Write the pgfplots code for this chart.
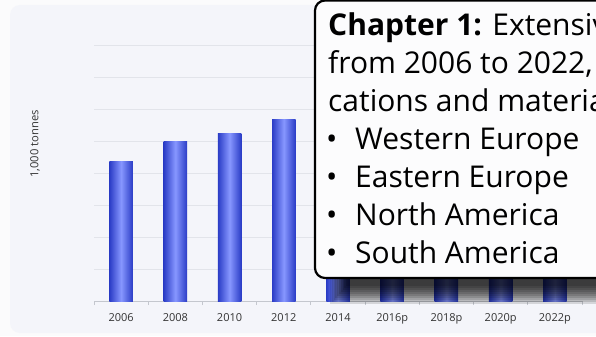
\documentclass[border=0pt]{standalone}
\usepackage{pgfplots}
\pgfplotsset{compat=1.18}
\usepackage{fontspec}
\setmainfont{Open Sans}
\definecolor{outerbg}{HTML}{FBFBFC}
\definecolor{panelbg}{HTML}{F4F5FA}
\definecolor{gridc}{HTML}{E2E4EA}
\definecolor{axisc}{HTML}{C4C7CE}
\definecolor{bardark}{HTML}{2A3CC6}
\definecolor{barlight}{HTML}{8797FF}
\definecolor{boxfill}{HTML}{FCFCFD}
\definecolor{labc}{HTML}{333333}
\newcommand\bigf{\fontsize{30bp}{38bp}\selectfont}
\pgfplotsset{gbar/.style={ybar, bar width=23.5bp, bar shift=0pt, draw=none,
  left color=bardark, right color=bardark, middle color=barlight}}
\begin{document}
\begin{tikzpicture}[x=1bp,y=1bp]
\clip (0,0) rectangle (596,336);
\fill[outerbg] (0,0) rectangle (596,336);
\fill[panelbg, rounded corners=10bp] (10,3) rectangle (720,331);
\node[rotate=90, font=\fontsize{11.2bp}{13bp}\selectfont, text=labc] at (35,192) {1,000 tonnes};
\begin{axis}[
  at={(94bp,35bp)}, anchor=south west,
  scale only axis, width=488bp, height=256bp,
  xmin=-0.5, xmax=8.5, ymin=0, ymax=8,
  ytick={1,...,8}, yticklabels={},
  ymajorgrids, grid style={gridc, line width=0.8bp},
  major y tick style={draw=none},
  axis x line*=bottom, axis y line*=left,
  y axis line style={draw=none},
  x axis line style={axisc, line width=1bp},
  xtick={0,...,8},
  xticklabels={2006,2008,2010,2012,2014,2016p,2018p,2020p,2022p},
  major x tick style={draw=none},
  minor xtick={-0.5,0.5,...,8.5},
  minor x tick style={axisc, line width=0.8bp},
  minor tick length=4bp,
  tick align=outside,
  xticklabel style={font=\fontsize{11bp}{13bp}\selectfont, text=labc, yshift=-5bp},
]
\addplot[gbar] coordinates {(0,4.375)};
\addplot[gbar] coordinates {(1,4.97)};
\addplot[gbar] coordinates {(2,5.25)};
\addplot[gbar] coordinates {(3,5.66)};
\addplot[gbar] coordinates {(4,6.0)};
\addplot[gbar] coordinates {(5,6.3)};
\addplot[gbar] coordinates {(6,6.6)};
\addplot[gbar] coordinates {(7,6.9)};
\addplot[gbar] coordinates {(8,7.2)};
\end{axis}
\foreach \i in {0,...,9} {
  \fill[black, opacity=0.13] ({330+1.8*\i},{32+2*\i}) rectangle (720,200);
}
\draw[line width=2.2bp, fill=boxfill, rounded corners=10bp] (315,58) rectangle (720,335.5);
\node[anchor=base west, inner sep=0, font=\bigf] at (328,301) {\textbf{Chapter 1:} Extensive coverage};
\node[anchor=base west, inner sep=0, font=\bigf] at (328,263) {from 2006 to 2022, with forecasts};
\node[anchor=base west, inner sep=0, font=\bigf] at (328,225) {cations and materials};
\node[anchor=base west, inner sep=0, font=\bigf] at (326,187) {•};
\node[anchor=base west, inner sep=0, font=\bigf] at (355,187) {Western Europe};
\node[anchor=base west, inner sep=0, font=\bigf] at (326,149) {•};
\node[anchor=base west, inner sep=0, font=\bigf] at (355,149) {Eastern Europe};
\node[anchor=base west, inner sep=0, font=\bigf] at (326,111) {•};
\node[anchor=base west, inner sep=0, font=\bigf] at (355,111) {North America};
\node[anchor=base west, inner sep=0, font=\bigf] at (326,73) {•};
\node[anchor=base west, inner sep=0, font=\bigf] at (355,73) {South America};
\end{tikzpicture}
\end{document}
